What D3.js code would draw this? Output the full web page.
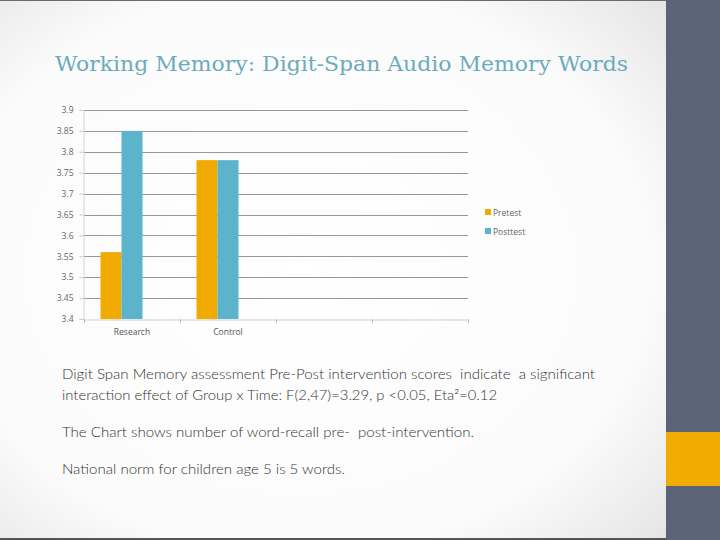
<!DOCTYPE html>
<html>
<head>
<meta charset="utf-8">
<script src="https://cdn.jsdelivr.net/npm/d3@7"></script>
<style>
  html, body { margin: 0; padding: 0; background: #fff; }
  svg { display: block; }
</style>
</head>
<body>
<script>
// chart data
const categories = ["Research", "Control", "", ""]
const series = ["Pretest", "Posttest"]
const seriesSlots = ["Pretest", "Posttest", "Series3"]   // third slot is empty in the source sheet
const pretest = [3.56, 3.78]
const posttest = [3.85, 3.78]
const yTicks = [3.4, 3.45, 3.5, 3.55, 3.6, 3.65, 3.7, 3.75, 3.8, 3.85, 3.9]
const colors = ["#f0aa00", "#5bb3cc"]

const titleText = "Working Memory: Digit-Span Audio Memory Words"
const bodyLines = [
    "Digit Span Memory assessment Pre-Post intervention scores  indicate  a significant",
    "interaction effect of Group x Time: F(2,47)=3.29, p <0.05, Eta\u00b2=0.12",
    "The Chart shows number of word-recall pre-  post-intervention.",
    "National norm for children age 5 is 5 words."
]

const W = 720, H = 540
const svg = d3.select("body").append("svg")
    .attr("width", W)
    .attr("height", H)

// slide background
const defs = svg.append("defs")
const grad = defs.append("radialGradient")
    .attr("id", "bg")
    .attr("cx", "45%").attr("cy", "50%").attr("r", "75%")
grad.append("stop").attr("offset", "0%").attr("stop-color", "#ffffff")
grad.append("stop").attr("offset", "70%").attr("stop-color", "#fbfbfb")
grad.append("stop").attr("offset", "100%").attr("stop-color", "#e4e4e4")

svg.append("rect").attr("width", 666).attr("height", H).attr("fill", "url(#bg)")
svg.append("rect").attr("x", 666).attr("width", W - 666).attr("height", H).attr("fill", "#5a6377")
svg.append("rect").attr("x", 666).attr("y", 432).attr("width", W - 666).attr("height", 54).attr("fill", "#f0ad00")
svg.append("rect").attr("x", 0).attr("y", 0).attr("width", 666).attr("height", 1).attr("fill", "#6b6b6b")
svg.append("rect").attr("x", 0).attr("y", 538).attr("width", 666).attr("height", 2).attr("fill", "#555")

// title
svg.append("text")
    .attr("x", 55)
    .attr("y", 71)
    .attr("font-family", "'DejaVu Serif', serif")
    .attr("font-size", 21)
    .attr("fill", "#6cabbb")
    .attr("textLength", 573)
    .attr("lengthAdjust", "spacingAndGlyphs")
    .text(titleText)

// plot area
const ivp = {x: 84, y: 110, w: 468, h: 319}

const x0 = d3.scaleBand()
    .domain(d3.range(categories.length))
    .range([ivp.x, ivp.w])

const x1 = d3.scaleBand()
    .domain(seriesSlots)
    .range([0, x0.bandwidth()])
    .paddingOuter(0.786)

const y = d3.scaleLinear()
    .domain([yTicks[0], yTicks[yTicks.length - 1]])
    .range([ivp.h, ivp.y])

// gridlines
svg.append("g")
    .selectAll("line")
    .data(yTicks.slice(1))
    .enter()
    .append("line")
    .attr("x1", ivp.x)
    .attr("x2", ivp.w)
    .attr("y1", d => Math.round(y(d)) + 0.5)
    .attr("y2", d => Math.round(y(d)) + 0.5)
    .attr("stroke", "#969696")
    .attr("stroke-width", 1)

const smallFont = "'Open Sans', Lato, sans-serif"

// y axis
const yAxis = svg.append("g")
    .attr("transform", `translate(${ivp.x - 0.5},0)`)
    .call(d3.axisLeft(y).tickValues(yTicks).tickFormat(d => String(d)).tickSize(4).tickPadding(6))
yAxis.select(".domain").attr("stroke", "#d4d4d4")
yAxis.selectAll(".tick line").attr("stroke", "#c8c8c8")
yAxis.selectAll("text")
    .attr("font-family", smallFont)
    .attr("font-size", 8.5)
    .attr("fill", "#666")

// bars
const rows = categories.map((c, i) => ({
    i: i,
    values: [pretest[i], posttest[i]]
})).filter(r => r.values[0] !== undefined)

const groups = svg.append("g")
    .selectAll("g")
    .data(rows)
    .enter()
    .append("g")
    .attr("transform", d => `translate(${x0(d.i)},0)`)

groups.selectAll("rect")
    .data(d => d.values.map((v, k) => ({key: series[k], v: v, k: k})))
    .enter()
    .append("rect")
    .attr("x", d => x1(d.key))
    .attr("y", d => y(d.v))
    .attr("width", x1.bandwidth())
    .attr("height", d => ivp.h - y(d.v))
    .attr("fill", d => colors[d.k])

// x axis
const xAxisScale = d3.scaleLinear().domain([0, categories.length]).range([ivp.x, ivp.w])
const xAxis = svg.append("g")
    .attr("transform", `translate(0,${ivp.h + 0.5})`)
    .call(d3.axisBottom(xAxisScale).ticks(categories.length).tickFormat("").tickSize(3).tickSizeOuter(3))
xAxis.select(".domain").attr("stroke", "#cfcfcf")
xAxis.selectAll(".tick line").attr("stroke", "#b5b5b5")

svg.append("g")
    .selectAll("text")
    .data(categories)
    .enter()
    .append("text")
    .attr("x", (d, i) => x0(i) + x0.bandwidth() / 2)
    .attr("y", ivp.h + 16)
    .attr("text-anchor", "middle")
    .attr("font-family", smallFont)
    .attr("font-size", 8.5)
    .attr("fill", "#555")
    .text(d => d)

// legend
const legend = svg.append("g")
    .selectAll("g")
    .data(series)
    .enter()
    .append("g")
    .attr("transform", (d, i) => `translate(485,${209 + i * 19})`)
legend.append("rect")
    .attr("width", 6)
    .attr("height", 6)
    .attr("fill", (d, i) => colors[i])
legend.append("text")
    .attr("x", 8)
    .attr("y", 6.5)
    .attr("font-family", smallFont)
    .attr("font-size", 8.5)
    .attr("fill", "#666")
    .text(d => d)

// body text
const lineY = [379, 400, 437, 474]
const lineW = [533, 435, 412, 283]
svg.append("g")
    .selectAll("text")
    .data(bodyLines)
    .enter()
    .append("text")
    .attr("x", 62)
    .attr("y", (d, i) => lineY[i])
    .attr("font-family", "Lato, 'Open Sans', sans-serif")
    .attr("font-size", 14.5)
    .attr("font-weight", 300)
    .attr("fill", "#333")
    .attr("textLength", (d, i) => lineW[i])
    .attr("lengthAdjust", "spacingAndGlyphs")
    .attr("xml:space", "preserve")
    .style("white-space", "pre")
    .text(d => d)
</script>
</body>
</html>
